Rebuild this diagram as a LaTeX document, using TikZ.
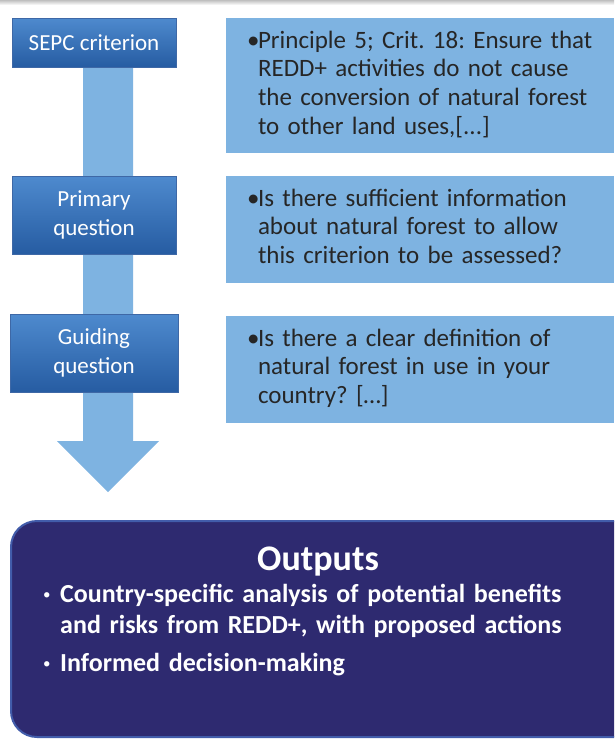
\documentclass[tikz,border=0pt]{standalone}
\usepackage{fontspec}
\setmainfont{Carlito}
\usetikzlibrary{positioning,calc}
\definecolor{critblue}{RGB}{47,104,176}
\definecolor{crittop}{RGB}{78,138,206}
\definecolor{critbot}{RGB}{38,92,162}
\definecolor{critedge}{RGB}{62,104,166}
\definecolor{paleblue}{RGB}{126,179,225}
\definecolor{outnavy}{RGB}{46,42,112}
\definecolor{outedge}{RGB}{66,92,170}
\frenchspacing
% bullet with its lines hanging after it
\newcommand{\bitem}[3][11pt]{\makebox[#1][l]{#2}\begin{tabular}[t]{@{}l@{}}#3\end{tabular}}
\newcommand{\smalldot}{\raisebox{3pt}{\mdseries\fontsize{15}{15}\selectfont•}}
\tikzset{
  stepbox/.style={rectangle, draw=critedge, line width=0.8pt, top color=crittop, bottom color=critbot, text=white, align=center, minimum width=164pt, font=\fontsize{23}{29}\selectfont, inner sep=0pt},
  infobox/.style={rectangle, fill=paleblue, text=black!85, align=left, text width=346pt, minimum width=388pt, inner xsep=21pt, font=\fontsize{25}{28.7}\selectfont},
  outbox/.style={rectangle, rounded corners=26pt, fill=outnavy, draw=outedge, line width=2pt},
  outtext/.style={text=white, font=\bfseries, inner sep=0pt}
}
\begin{document}
\begin{tikzpicture}[x=1pt,y=-1pt]
\useasboundingbox (0,0) rectangle (614,739);
\clip (0,0) rectangle (614,739);
% thin shadow of the slide element above
\fill[top color=black!25, bottom color=white] (0,0) rectangle (614,5);

% big arrow running through the steps
\coordinate (bartop) at (108,60);
\coordinate (arrowtip) at (108,492);
\fill[paleblue] ($(bartop)+(-25,0)$) -- ($(bartop)+(25,0)$) -- ($(arrowtip)+(25,-51)$) -- ($(arrowtip)+(51,-51)$)
  -- (arrowtip) -- ($(arrowtip)+(-51,-51)$) -- ($(arrowtip)+(-25,-51)$) -- cycle;

% left column
\node[stepbox, minimum height=49pt] (sepc) at (94,42.5) {SEPC criterion};
\node[stepbox, minimum height=78pt] (prim) at (94,215) {Primary\\question};
\node[stepbox, minimum height=78pt, minimum width=168pt] (guid) at (94,353) {Guiding\\question};

% right column
\node[infobox, minimum height=135pt] (crit) at (420,85.5) {\bitem{•}{Principle 5; Crit. 18: Ensure that\\REDD+ activities do not cause\\the conversion of natural forest\\to other land uses,[...]}};
\node[infobox, minimum height=107pt] (primq) at (420,229) {\bitem{•}{Is there sufficient information\\about natural forest to allow\\this criterion to be assessed?}};
\node[infobox, minimum height=107pt] (guidq) at (420,369) {\bitem{•}{Is there a clear definition of\\natural forest in use in your\\country? […]}};

% outputs
\node[outbox, minimum width=640pt, minimum height=216pt, anchor=north west] (outs) at (10,520) {};
\node[outtext, font=\bfseries\fontsize{36}{40}\selectfont] (outtitle) at (318,562) {Outputs};
\node[outtext, anchor=north west, text width=560pt, align=left, font=\bfseries\fontsize{26}{31}\selectfont] (outlist) at (43,581)
  {\bitem[17pt]{\smalldot}{Country-specific analysis of potential benefits\\and risks from REDD+, with proposed actions}\\[6pt]
   \bitem[17pt]{\smalldot}{Informed decision-making}};
\end{tikzpicture}
\end{document}
